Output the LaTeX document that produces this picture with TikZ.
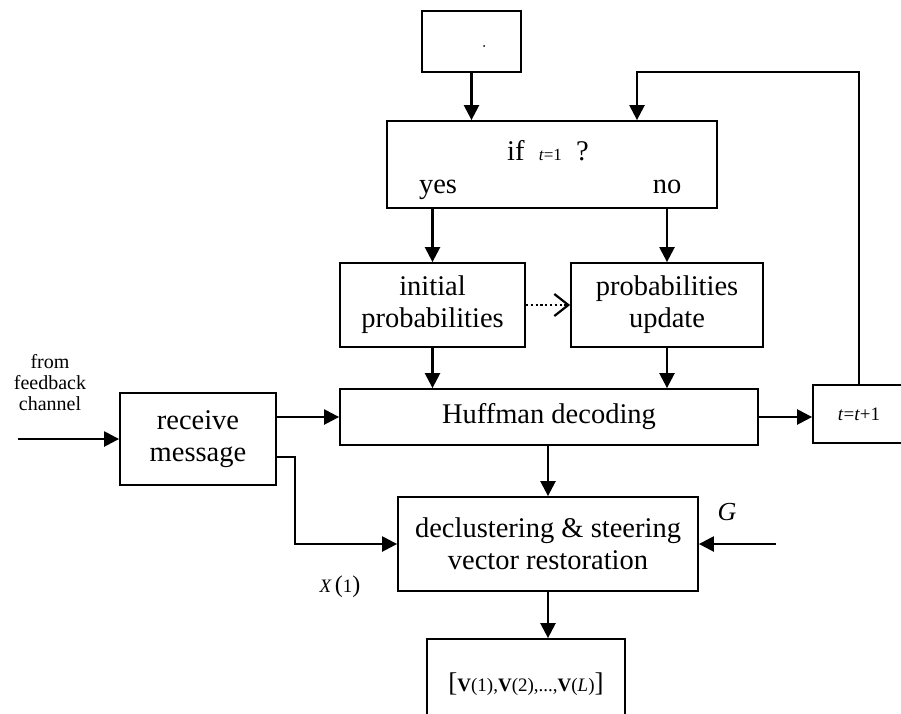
\documentclass[tikz,border=0pt]{standalone}
\usepackage{fontspec}
\setmainfont{Liberation Serif}
\usetikzlibrary{arrows.meta, positioning}
\tikzstyle{block} = [rectangle, draw, line width=1.8pt, align=center,
    inner sep=0pt, font=\fontsize{28.5}{32}\selectfont]
\tikzstyle{line} = [draw, line width=2.4pt, -{Triangle[length=15pt,width=15pt]}]
\tikzstyle{dotline} = [draw, line width=2.2pt, dash pattern=on 2.2pt off 2.6pt,
    -{Straight Barb[length=14pt,width=22pt,line width=2.2pt]}]
\tikzstyle{txt} = [inner sep=0pt, align=center]

\begin{document}
\begin{tikzpicture}[x=1pt, y=-1pt]
  \useasboundingbox (0,0) rectangle (901,713);
  % Place nodes
  \node[block, minimum width=99pt, minimum height=61pt] (start) at (471.5,41.5) {};
  \fill (484,46) circle (1pt);
  \node[block, minimum width=330pt, minimum height=87pt] (cond) at (552,164.5) {};
  \node[txt, anchor=base, font=\fontsize{28.5}{28.5}\selectfont] (iftxt) at (548,160)
    {if~~{\fontsize{17}{17}\selectfont\textit{t}=1}~~?};
  \node[txt, anchor=base, font=\fontsize{28.5}{28.5}\selectfont] (yes) at (438,193) {yes};
  \node[txt, anchor=base, font=\fontsize{28.5}{28.5}\selectfont] (no) at (667,193) {no};
  \node[block, minimum width=185pt, minimum height=84pt] (init) at (432.5,305) {initial\\probabilities};
  \node[block, minimum width=192pt, minimum height=84pt] (upd) at (667,305) {probabilities\\update};
  \node[block, minimum width=418pt, minimum height=56pt] (huff) at (549,417) {Huffman decoding};
  \node[block, minimum width=92pt, minimum height=58pt,
    font=\fontsize{19}{19}\selectfont] (tbox) at (859,414) {\textit{t}=\textit{t}+1};
  \node[block, minimum width=156pt, minimum height=92pt] (recv) at (198,439) {receive\\message};
  \node[block, minimum width=300pt, minimum height=94pt] (decl) at (548,544)
    {declustering \& steering\\vector restoration};
  \node[block, minimum width=198pt, minimum height=90pt,
    font=\fontsize{19}{19}\selectfont] (out) at (526,684)
    {{\fontsize{27}{27}\selectfont[}\textbf{V}(1),\textbf{V}(2),...,\textbf{V}(\textit{L}){\fontsize{27}{27}\selectfont]}};
  % Labels
  \node[txt, font=\fontsize{20}{21}\selectfont] (fromlbl) at (50,383) {from\\feedback\\channel};
  \node[txt, font=\fontsize{19}{19}\selectfont] (xlbl) at (340,587)
    {\textit{X}\,{\fontsize{24}{24}\selectfont(}1{\fontsize{24}{24}\selectfont)}};
  \node[txt, font=\fontsize{26}{26}\selectfont\itshape] (glbl) at (727,512) {G};
  \coordinate (fb) at (637,72);
  \coordinate (src) at (18,439);
  \coordinate (gsrc) at (776,544);

  % Draw edges
  \path [line] (start.south) -- (start.south |- cond.north);
  \path [line] (tbox.north) |- (fb) -- (fb |- cond.north);
  \path [line] (init.north |- cond.south) -- (init.north);
  \path [line] (upd.north |- cond.south) -- (upd.north);
  \path [dotline] (init.east) -- (upd.west);
  \path [line] (init.south) -- (init.south |- huff.north);
  \path [line] (upd.south) -- (upd.south |- huff.north);
  \path [line] (huff.east) -- (tbox.west |- huff.east);
  \path [line] (src) -- (recv.west);
  \path [line] (recv.east |- huff.west) -- (huff.west);
  \path [line] ([yshift=-18pt]recv.east) -- ++(18,0) |- (decl.west);
  \path [line] (huff.south) -- (huff.south -| decl.north) -- (decl.north);
  \path [line] (gsrc) -- (decl.east);
  \path [line] (decl.south) -- (decl.south |- out.north);
\end{tikzpicture}
\end{document}
